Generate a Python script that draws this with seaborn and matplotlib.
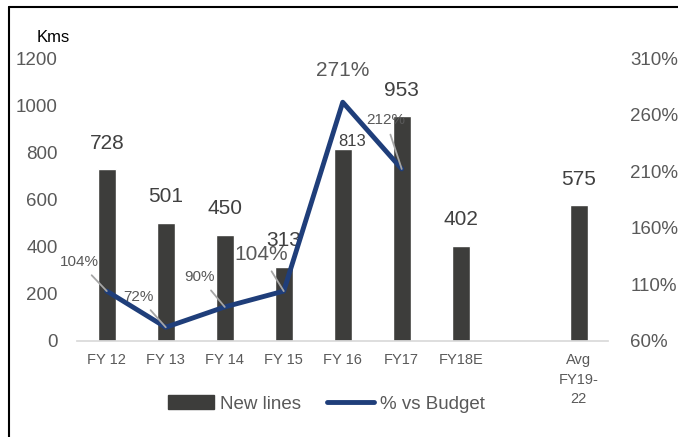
import matplotlib
matplotlib.use('Agg')
import matplotlib.pyplot as plt
import seaborn as sns
import pandas as pd
from matplotlib.lines import Line2D
from matplotlib.patches import Patch

# dados
years = ['FY 12', 'FY 13', 'FY 14', 'FY 15', 'FY 16', 'FY17', 'FY18E', 'Avg\nFY19-\n22']
new_lines = [728, 501, 450, 313, 813, 953, 402, 575]
order = ['FY 12', 'FY 13', 'FY 14', 'FY 15', 'FY 16', 'FY17', 'FY18E', ' ', 'Avg\nFY19-\n22']
pct_years = ['FY 12', 'FY 13', 'FY 14', 'FY 15', 'FY 16', 'FY17']
pct_vs_budget = [104, 72, 90, 104, 271, 212]

sns.set_theme(style='white')
plt.rcParams['font.family'] = ['Liberation Sans', 'DejaVu Sans']

bar_color = '#3d3d3b'
line_color = '#1f3e7a'
grey_txt = '#595959'

df = pd.DataFrame({'ano': years, 'km': new_lines})

fig = plt.figure(figsize=(6.78, 4.37), dpi=100)
ax = fig.add_axes([0.114, 0.220, 0.783, 0.647])
sns.barplot(data=df, x='ano', y='km', order=order, color=bar_color,
            width=0.3, saturation=1, ax=ax)
ax.set_ylim(0, 1200)
ax.set_yticks(range(0, 1201, 200))
ax.set_xlabel('')
ax.set_ylabel('')
for s in ['top', 'right', 'left']:
    ax.spines[s].set_visible(False)
ax.spines['bottom'].set_color('#d9d9d9')
ax.tick_params(axis='y', length=0, pad=14, labelsize=13.5, labelcolor=grey_txt)
ax.tick_params(axis='x', length=0, pad=9, labelsize=10.5, labelcolor=grey_txt)
for lab in ax.get_xticklabels():
    lab.set_linespacing(1.5)

# rótulos das barras
for ano, v in zip(years, new_lines):
    i = order.index(ano)
    if ano == 'FY 16':
        ax.annotate(str(v), xy=(i, v), xytext=(7, 0), textcoords='offset points',
                    ha='center', va='bottom', fontsize=12, color='#404040')
    else:
        ax.annotate(str(v), xy=(i, v), xytext=(0, 12), textcoords='offset points',
                    ha='center', va='bottom', fontsize=15, color='#404040')

# linha % vs orçamento
ax2 = ax.twinx()
xs = [order.index(a) for a in pct_years]
sns.lineplot(x=xs, y=pct_vs_budget, ax=ax2, color=line_color, lw=3.5)
ax2.set_ylim(60, 310)
ax2.set_yticks(range(60, 311, 50))
ax2.set_yticklabels([f'{t}%' for t in range(60, 311, 50)])
ax2.set_ylabel('')
for s in ax2.spines.values():
    s.set_visible(False)
ax2.tick_params(axis='y', length=0, pad=16, labelsize=13.5, labelcolor=grey_txt)

offsets = [(-20, 21, 11), (-19.5, 22, 11), (-18, 21.6, 11), (-16, 26, 15), (0, 23, 15), (-11.5, 35, 11)]
for x, p, (dx, dy, fs) in zip(xs, pct_vs_budget, offsets):
    arrow = None if p == 271 else dict(arrowstyle='-', color='#a6a6a6', lw=1.3,
                                       shrinkA=3, shrinkB=0)
    ax2.annotate(f'{p}%', xy=(x, p), xytext=(dx, dy), textcoords='offset points',
                 ha='center', va='center', fontsize=fs, color=grey_txt,
                 arrowprops=arrow)

ax.set_xlim(-0.5, 8.5)

fig.text(0.078, 0.915, 'Kms', ha='center', va='center', fontsize=12, color='black')

handles = [Patch(color=bar_color), Line2D([0], [0], color=line_color, lw=3.5)]
fig.legend(handles, ['New lines', '% vs Budget'], loc='center',
           bbox_to_anchor=(0.481, 0.0755), ncol=2, frameon=False,
           fontsize=13.5, labelcolor=grey_txt, handlelength=2.5,
           handletextpad=0.3, columnspacing=1.4)

# moldura
fig.add_artist(Line2D([0.0133, 1.0], [0.984, 0.984], color='black', lw=1.5))
fig.add_artist(Line2D([0.0133, 0.0133], [0.0, 0.984], color='black', lw=1.5))

plt.savefig('out.png', dpi=100)
